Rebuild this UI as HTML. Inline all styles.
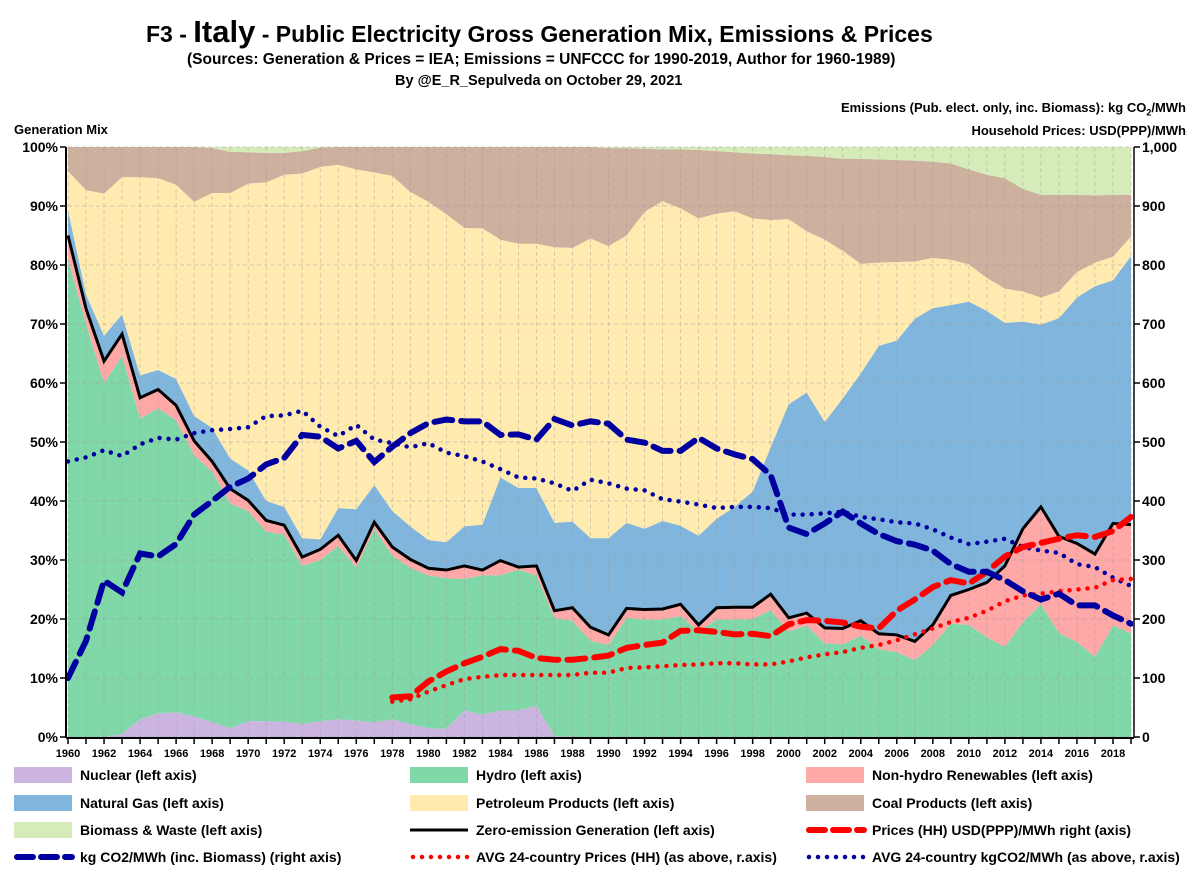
<!DOCTYPE html>
<html><head><meta charset="utf-8"><style>
body{margin:0;background:#fff;}
#wrap{position:relative;width:1200px;height:869px;font-family:"Liberation Sans",sans-serif;font-weight:bold;overflow:hidden;}
.t{position:absolute;white-space:nowrap;color:#000;}
</style></head><body>
<div id="wrap">
<div class="t" style="left:146px;top:14px;font-size:23px;">F3 - <span style="font-size:31px">Italy</span> - Public Electricity Gross Generation Mix, Emissions &amp; Prices</div>
<div class="t" style="left:187px;top:51px;font-size:15.5px;">(Sources: Generation &amp; Prices = IEA; Emissions = UNFCCC for 1990-2019,  Author for 1960-1989)</div>
<div class="t" style="left:395px;top:73px;font-size:14.5px;">By @E_R_Sepulveda on October 29, 2021</div>
<div class="t" style="right:14px;top:100px;font-size:13px;">Emissions (Pub. elect. only, inc. Biomass): kg CO<sub style="font-size:9px">2</sub>/MWh</div>
<div class="t" style="right:14px;top:123px;font-size:13px;">Household Prices: USD(PPP)/MWh</div>
<div class="t" style="left:14px;top:122px;font-size:13px;">Generation Mix</div>
<svg id="chart" width="1200" height="869" style="position:absolute;left:0;top:0"></svg>
</div>
<script>
const years=[];for(let y=1960;y<=2019;y++)years.push(y);
const nuclearTop=[0,0,0,0.5,3,4,4.2,3.5,2.5,1.5,2.7,2.7,2.6,2.2,2.7,3,2.8,2.5,3,2.2,1.5,1.4,4.5,3.8,4.5,4.5,5.3,0.2,0,0,0,0,0,0,0,0,0,0,0,0,0,0,0,0,0,0,0,0,0,0,0,0,0,0,0,0,0,0,0,0];
const hydroTop=[81,70,60,64.6,54,55.7,53.7,47.8,45,39.6,38.3,34.8,34.3,29,30,32.4,28.7,35.3,30.7,28.7,27.4,26.9,26.8,27.4,27.4,28.4,27.4,20.2,19.7,16.3,15.6,20.2,19.9,19.9,20.5,17.9,19.9,19.9,20,21.5,17.9,18.9,15.9,15.7,17.2,14.9,14.4,13,15.6,19.2,19,16.9,15.3,19.5,22.5,17.6,16.1,13.6,18.9,17.6];
const zeroEmission=[85,72.6,63.7,68.3,57.5,58.9,56.2,50.2,46.7,42.1,40.1,36.7,35.9,30.5,31.8,34.2,29.9,36.4,32.2,30.1,28.6,28.3,29,28.3,29.9,28.8,29,21.4,21.9,18.6,17.3,21.8,21.6,21.7,22.5,19,21.9,22,22,24.2,20.2,21,18.5,18.4,19.7,17.5,17.3,16.2,19,24,25,26.2,29,35.3,39,34,32.8,31,36.2,36];
const gasTop=[89.3,75,68,71.6,61.3,62.2,60.7,54.4,52.4,47.2,45.2,40,39,33.7,33.5,38.8,38.6,42.7,38.3,35.7,33.4,33,35.7,36,44,42.2,42.2,36.3,36.5,33.7,33.7,36.3,35.3,36.6,35.8,34.1,37,39,41.6,49.1,56.4,58.4,53.4,57.4,61.6,66.3,67.2,70.9,72.7,73.2,73.8,72.2,70.2,70.4,69.9,71,74.5,76.4,77.4,81.5];
const petroleumTop=[95.9,92.7,92.1,94.9,94.9,94.7,93.6,90.7,92.2,92.2,93.8,94,95.3,95.5,96.6,97,96.2,95.7,95.1,92.4,90.7,88.6,86.3,86.2,84.3,83.6,83.6,83,82.9,84.5,83.2,85,89,90.8,89.6,87.9,88.7,89.1,87.9,87.6,87.8,85.7,84.3,82.4,80.2,80.4,80.5,80.6,81.2,80.9,80.1,77.8,76,75.5,74.5,75.5,78.8,80.4,81.4,84.8];
const coalTop=[100,100,100,100,100,100,100,100,99.8,99.2,99.1,99,99,99.3,99.9,100,100,100,100,100,100,100,100,100,100,100,100,100,100,100,99.8,99.8,99.7,99.6,99.6,99.5,99.3,99.1,98.9,98.8,98.6,98.5,98.3,98,98,97.9,97.8,97.7,97.5,97.2,96.2,95.3,94.7,92.9,91.9,91.9,91.9,91.8,91.9,91.9];
const emissions=[100,163,265,245,311,306,327,377,400,424,438,462,473,512,509,489,502,466,492,515,532,538,535,535,512,513,504,539,528,535,531,504,499,485,485,507,489,479,471,444,355,344,362,382,362,344,332,326,316,293,280,280,266,247,233,243,223,223,206,192];
const avgEmissions=[467,474,486,476,496,507,504,515,520,522,525,544,545,553,526,510,529,504,498,491,498,482,476,467,454,440,438,430,417,436,430,421,418,403,399,394,388,390,390,388,377,377,379,382,373,369,364,362,352,338,327,331,336,322,316,312,293,288,270,256];
const priceYears=[1978,1979,1980,1981,1982,1983,1984,1985,1986,1987,1988,1989,1990,1991,1992,1993,1994,1995,1996,1997,1998,1999,2000,2001,2002,2003,2004,2005,2006,2007,2008,2009,2010,2011,2012,2013,2014,2015,2016,2017,2018,2019];
const prices=[67,69,94,111,125,136,149,146,134,131,131,134,138,151,156,160,180,181,178,174,175,171,191,198,197,194,187,184,214,233,254,266,260,280,306,322,329,336,342,339,349,373];
const avgPrices=[60,64,77,88,98,102,105,105,105,105,105,109,109,117,118,120,122,123,125,125,123,123,128,135,140,144,151,156,164,174,184,195,202,214,230,240,243,247,250,253,266,268];
const leftTicks=["0%","10%","20%","30%","40%","50%","60%","70%","80%","90%","100%"];
const rightTicks=["0","100","200","300","400","500","600","700","800","900","1,000"];

const X0=68,X1=1131,Y0=737,Y1=147;
const xs=yr=>X0+(yr-1960)*(X1-X0)/59;
const yp=p=>Y0-p*(Y0-Y1)/100;
const yr=v=>Y0-v*(Y0-Y1)/1000;
const svg=document.getElementById('chart');
const NS='http://www.w3.org/2000/svg';
function mk(tag,attrs,parent){const e=document.createElementNS(NS,tag);for(const k in attrs)e.setAttribute(k,attrs[k]);(parent||svg).appendChild(e);return e;}

const zeros=years.map(()=>0);
const layers=[
 ['nuclear-area',zeros,nuclearTop,'#ccb4e0'],
 ['hydro-area',nuclearTop,hydroTop,'#80d7a7'],
 ['renewables-area',hydroTop,zeroEmission,'#ffa8a8'],
 ['gas-area',zeroEmission,gasTop,'#80b6de'],
 ['petroleum-area',gasTop,petroleumTop,'#ffeab0'],
 ['coal-area',petroleumTop,coalTop,'#cdb09e'],
 ['biomass-area',coalTop,years.map(()=>100),'#d5ecb9']
];
layers.forEach(([name,lo,hi,col])=>{
  let pts=years.map((y,i)=>xs(y)+','+yp(hi[i]));
  for(let i=years.length-1;i>=0;i--)pts.push(xs(years[i])+','+yp(lo[i]));
  const p=mk('polygon',{points:pts.join(' '),fill:col});
  
  
});
for(let i=0;i<=10;i++){
  const g=mk('line',{x1:X0,x2:X1,y1:yp(i*10),y2:yp(i*10),stroke:'#999','stroke-dasharray':'4,3','stroke-width':0.8,opacity:0.6});
  
  
}
years.forEach(y=>{
  const g=mk('line',{x1:xs(y),x2:xs(y),y1:Y1,y2:Y0,stroke:'#999','stroke-dasharray':'4,3','stroke-width':0.8,opacity:0.5});
  
  
});
function line(name,xv,vals,fy,attrs){
  const d=vals.map((v,i)=>(i?'L':'M')+xs(xv[i])+','+fy(v)).join(' ');
  const p=mk('path',Object.assign({d:d,fill:'none'},attrs));
  
  
}
line('zero-emission-line',years,zeroEmission,yp,{stroke:'#000','stroke-width':3,'stroke-linejoin':'miter'});
line('avg-emissions-line',years,avgEmissions,yr,{stroke:'#0000a0','stroke-width':4.5,'stroke-dasharray':'0 9','stroke-linecap':'round'});
line('avg-prices-line',priceYears,avgPrices,yr,{stroke:'#ff0000','stroke-width':4.5,'stroke-dasharray':'0 9','stroke-linecap':'round'});
line('prices-line',priceYears,prices,yr,{stroke:'#ff0000','stroke-width':6,'stroke-dasharray':'18 9','stroke-linecap':'round'});
line('emissions-line',years,emissions,yr,{stroke:'#0000a0','stroke-width':6,'stroke-dasharray':'18 9','stroke-linecap':'round'});
mk('line',{x1:X0-2,x2:X0-2,y1:Y1,y2:Y0+1,stroke:'#000','stroke-width':2});
mk('line',{x1:X1+3,x2:X1+3,y1:Y1,y2:Y0+1,stroke:'#444','stroke-width':2});
mk('line',{x1:X0-2,x2:X1+3,y1:Y0+1,y2:Y0+1,stroke:'#000','stroke-width':2});
leftTicks.forEach((t,i)=>{
  mk('line',{x1:X0-8,x2:X0-2,y1:yp(i*10),y2:yp(i*10),stroke:'#000','stroke-width':1.5});
  const tx=mk('text',{x:X0-10,y:yp(i*10)+5,'text-anchor':'end','font-size':14,'font-weight':'bold','font-family':'Liberation Sans, sans-serif'});
  tx.textContent=t;
  
  
});
rightTicks.forEach((t,i)=>{
  mk('line',{x1:X1+3,x2:X1+9,y1:yr(i*100),y2:yr(i*100),stroke:'#000','stroke-width':1.5});
  const tx=mk('text',{x:X1+11,y:yr(i*100)+5,'font-size':14,'font-weight':'bold','font-family':'Liberation Sans, sans-serif'});
  tx.textContent=t;
  
  
});
years.forEach((y,i)=>{
  mk('line',{x1:xs(y),x2:xs(y),y1:Y0+1,y2:Y0+7,stroke:'#000','stroke-width':1.5});
  if(i%2===0){
    const tx=mk('text',{x:xs(y),y:Y0+20,'text-anchor':'middle','font-size':11,'font-weight':'bold','font-family':'Liberation Sans, sans-serif'});
    tx.textContent=y;
    
    
  }
});
const legend=[
 ['Nuclear (left axis)','rect','#ccb4e0'],['Hydro (left axis)','rect','#80d7a7'],['Non-hydro Renewables (left axis)','rect','#ffa8a8'],
 ['Natural Gas (left axis)','rect','#80b6de'],['Petroleum Products (left axis)','rect','#ffeab0'],['Coal Products (left axis)','rect','#cdb09e'],
 ['Biomass & Waste (left axis)','rect','#d5ecb9'],['Zero-emission Generation (left axis)','solid','#000'],['Prices (HH) USD(PPP)/MWh right (axis)','dash','#ff0000'],
 ['kg CO2/MWh (inc. Biomass) (right axis)','dash','#0000a0'],['AVG 24-country Prices (HH) (as above, r.axis)','dot','#ff0000'],['AVG 24-country kgCO2/MWh (as above, r.axis)','dot','#0000a0']
];
const colX=[14,410,806],rowY=[775,803,830,857];
legend.forEach(([label,kind,col],i)=>{
  const x=colX[i%3],y=rowY[Math.floor(i/3)];
  const g=mk('g',{});
  
  
  if(kind==='rect')mk('rect',{x:x,y:y-8,width:58,height:16,fill:col},g);
  else if(kind==='solid')mk('line',{x1:x,x2:x+58,y1:y,y2:y,stroke:col,'stroke-width':3},g);
  else if(kind==='dash')mk('line',{x1:x+3,x2:x+58,y1:y,y2:y,stroke:col,'stroke-width':6,'stroke-dasharray':'16 8','stroke-linecap':'round'},g);
  else mk('line',{x1:x+3,x2:x+58,y1:y,y2:y,stroke:col,'stroke-width':4.5,'stroke-dasharray':'0 9','stroke-linecap':'round'},g);
  const tx=mk('text',{x:x+66,y:y+5,'font-size':14,'font-weight':'bold','font-family':'Liberation Sans, sans-serif'},g);
  tx.textContent=label;
});
</script>
</body></html>
